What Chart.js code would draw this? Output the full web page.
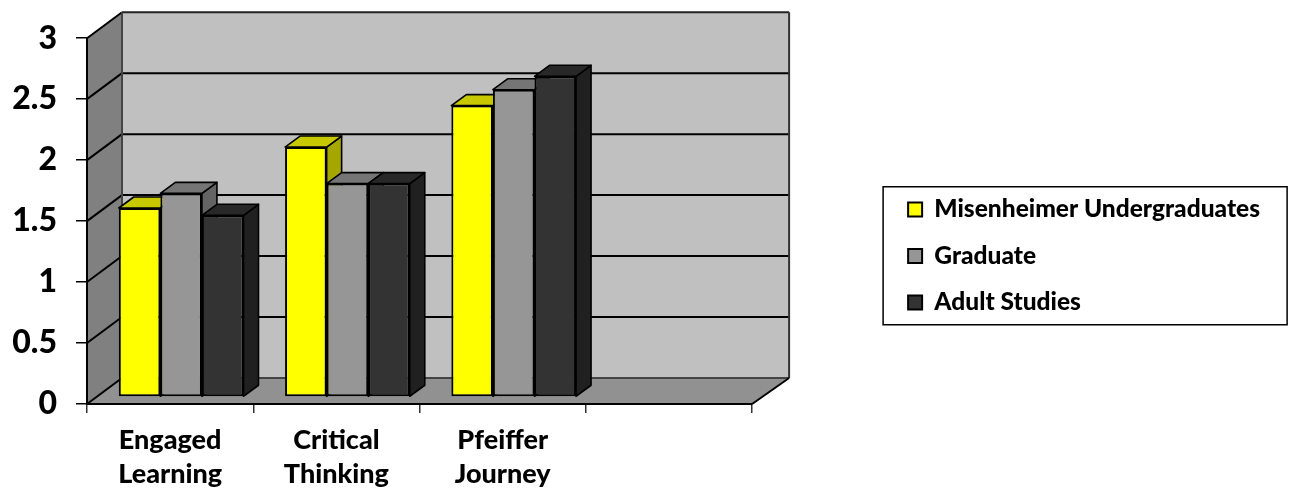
<!DOCTYPE html>
<html>
<head>
<meta charset="utf-8">
<title>Survey scores</title>
<script src="https://cdn.jsdelivr.net/npm/chart.js@4/dist/chart.umd.js"></script>
<style>
  html, body { margin: 0; background: #fff; }
  canvas { display: block; }
</style>
</head>
<body>
<canvas id="bars" width="1294" height="491"></canvas>
<script>
const categories = [['Engaged', 'Learning'], ['Critical', 'Thinking'], ['Pfeiffer', 'Journey'], '']
const seriesNames = ['Misenheimer Undergraduates', 'Graduate', 'Adult Studies']
const undergraduates = [1.55, 2.05, 2.39]
const graduate = [1.67, 1.75, 2.52]
const adultStudies = [1.49, 1.75, 2.63]

const frontColors = ['#ffff00', '#969696', '#333333']
const topColors = ['#c8c800', '#757575', '#282828']
const sideColors = ['#a6a600', '#646464', '#202020']

const FONT = 'Lato, sans-serif'
const WALL = { dx: 35, dy: -26 }      // how far the back wall sits behind the axes
const BAR_OFFSET = { dx: 11, dy: -7 } // bars stand a little way into the floor
const BAR_DEPTH = { dx: 15, dy: -11 }

const poly = (ctx, points, fill, stroke, width) => {
  ctx.beginPath()
  points.forEach(([x, y], i) => (i ? ctx.lineTo(x, y) : ctx.moveTo(x, y)))
  ctx.closePath()
  if (fill) {
    ctx.fillStyle = fill
    ctx.fill()
  }
  if (stroke) {
    ctx.strokeStyle = stroke
    ctx.lineWidth = width
    ctx.stroke()
  }
}

const line = (ctx, x1, y1, x2, y2, color, width) => {
  ctx.beginPath()
  ctx.moveTo(x1, y1)
  ctx.lineTo(x2, y2)
  ctx.strokeStyle = color
  ctx.lineWidth = width
  ctx.stroke()
}

// back wall, side wall, floor and their gridlines
const walls = {
  id: 'walls',
  beforeDraw (chart) {
    const { ctx, chartArea: a, scales: { y } } = chart
    const { dx, dy } = WALL
    const backRight = a.right + dx + 2
    ctx.save()
    poly(ctx, [[a.left, a.top], [a.left + dx, a.top + dy], [a.left + dx, a.bottom + dy], [a.left, a.bottom]], '#808080')
    poly(ctx, [[a.left + dx, a.top + dy], [backRight, a.top + dy], [backRight, a.bottom + dy], [a.left + dx, a.bottom + dy]], '#c0c0c0')
    poly(ctx, [[a.left, a.bottom], [a.left + dx, a.bottom + dy], [backRight, a.bottom + dy], [a.right, a.bottom]], '#919191')

    y.ticks.forEach(t => {
      const py = y.getPixelForValue(t.value)
      line(ctx, a.left, py, a.left + dx, py + dy, '#000', 2)
      if (t.value > 0 && t.value < 3) line(ctx, a.left + dx, py + dy, backRight, py + dy, '#000', 2)
    })
    line(ctx, a.left + dx, a.top + dy, backRight, a.top + dy, '#222', 2)
    line(ctx, a.left + dx, a.top + dy, a.left + dx, a.bottom + dy, '#444', 2)
    line(ctx, a.left + dx, a.bottom + dy, backRight, a.bottom + dy, '#444', 2)
    line(ctx, backRight, a.top + dy, backRight, a.bottom + dy, '#333', 2)
    line(ctx, a.right, a.bottom, backRight, a.bottom + dy, '#000', 2)
    ctx.restore()
  }
}

// side and top faces go down left to right, the library then paints the fronts over them
const barFaces = {
  id: 'barFaces',
  beforeDatasetsDraw (chart) {
    const { ctx } = chart
    const { dx, dy } = BAR_DEPTH
    ctx.save()
    ctx.translate(BAR_OFFSET.dx, BAR_OFFSET.dy)
    ctx.lineJoin = 'round'
    chart.data.datasets.forEach((ds, i) => {
      chart.getDatasetMeta(i).data.forEach(bar => {
        const l = bar.x - bar.width / 2
        const r = bar.x + bar.width / 2
        poly(ctx, [[r, bar.y], [r + dx, bar.y + dy], [r + dx, bar.base + dy], [r, bar.base]], sideColors[i], '#000', 1.6)
        poly(ctx, [[l, bar.y], [l + dx, bar.y + dy], [r + dx, bar.y + dy], [r, bar.y]], topColors[i], '#000', 1.6)
      })
    })
    ctx.restore()
  },
  beforeDatasetDraw (chart) {
    chart.ctx.save()
    chart.ctx.translate(BAR_OFFSET.dx, BAR_OFFSET.dy)
  },
  afterDatasetDraw (chart) {
    chart.ctx.restore()
  }
}

// empty layout box, keeps the gap between the plot and the legend
const legendGap = {
  id: 'legendGap',
  start (chart) {
    Chart.layouts.addBox(chart, {
      position: 'right',
      weight: 1,
      fullSize: false,
      options: {},
      isHorizontal: () => false,
      update (w, h) {
        this.width = 134
        this.height = h
      },
      draw () {}
    })
  }
}

const legendFrame = {
  id: 'legendFrame',
  afterDraw (chart) {
    const { ctx } = chart
    const first = chart.legend.legendHitBoxes[0]
    ctx.save()
    ctx.strokeStyle = '#000'
    ctx.lineWidth = 1.5
    ctx.strokeRect(first.left - 25, first.top - 10.5, 404, 138)
    ctx.restore()
  }
}

const datasets = [undergraduates, graduate, adultStudies].map((values, i) => ({
  label: seriesNames[i],
  data: values,
  backgroundColor: frontColors[i],
  borderColor: '#000',
  borderWidth: 2,
  borderSkipped: false
}))

new Chart(document.getElementById('bars'), {
  type: 'bar',
  data: { labels: categories, datasets },
  plugins: [legendGap, walls, barFaces, legendFrame],
  options: {
    responsive: false,
    animation: false,
    events: [],
    categoryPercentage: 0.75,
    barPercentage: 1,
    layout: { padding: { top: 21, right: 24, bottom: 0, left: 0 } },
    scales: {
      x: {
        grid: { drawOnChartArea: false, offset: true, color: '#333', lineWidth: 1.5, tickLength: 9 },
        border: { color: '#000', width: 2 },
        ticks: {
          color: '#000',
          padding: 10,
          maxRotation: 0,
          font: { family: FONT, size: 27, weight: 900, lineHeight: 1.26 }
        },
        afterFit: s => { s.height = 87 }
      },
      y: {
        min: 0,
        max: 3,
        ticks: {
          stepSize: 0.5,
          color: '#000',
          padding: 19,
          font: { family: FONT, size: 32, weight: 900 },
          callback: v => String(v)
        },
        grid: { drawOnChartArea: false, color: '#000', lineWidth: 1.5, tickLength: 11 },
        border: { color: '#000', width: 2 },
        afterFit: s => { s.width = 87 }
      }
    },
    plugins: {
      tooltip: { enabled: false },
      legend: {
        position: 'right',
        maxWidth: 600,
        labels: {
          boxWidth: 14,
          boxHeight: 14,
          padding: 22,
          color: '#000',
          font: { family: FONT, size: 24.5, weight: 900 }
        }
      }
    }
  }
})
</script>
</body>
</html>
